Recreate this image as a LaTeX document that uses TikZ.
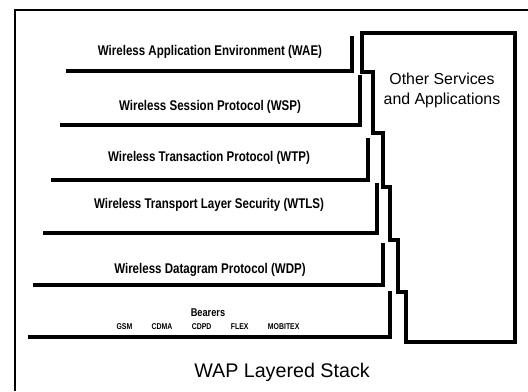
\documentclass[tikz,border=0pt]{standalone}
\usepackage{fontspec}
\setmainfont{Liberation Sans}
\newfontfamily\layerfont[FakeStretch=0.82]{Liberation Sans}
\usetikzlibrary{positioning}

\tikzset{
  layertext/.style={font=\layerfont\bfseries\fontsize{10}{11}\selectfont, inner sep=0pt},
  bearertext/.style={font=\layerfont\bfseries\fontsize{6}{7}\selectfont, inner sep=0pt},
  rim/.style={line width=2.5pt, line cap=rect},
  outline/.style={line width=2.3pt, line join=miter},
  frame/.style={line width=1.5pt}
}

\begin{document}
\begin{tikzpicture}[x=0.025cm, y=-0.025cm]
  \useasboundingbox (0,0) rectangle (528,391);

  % outer frame, cut off at the right and bottom
  \draw[frame] (15,391) -- (15,10) -- (528,10);

  % protocol layers, top to bottom
  \node[layertext] (wae) at (210,52) {Wireless Application Environment (WAE)};
  \draw[rim] (352,38) |- (68,71);

  \node[layertext] (wsp) at (210,107) {Wireless Session Protocol (WSP)};
  \draw[rim] (360,77) |- (62,125);

  \node[layertext] (wtp) at (209,158) {Wireless Transaction Protocol (WTP)};
  \draw[rim] (368,140) |- (53,180);

  \node[layertext] (wtls) at (209,205) {Wireless Transport Layer Security (WTLS)};
  \draw[rim] (377,185) |- (45,233);

  \node[layertext] (wdp) at (210,270) {Wireless Datagram Protocol (WDP)};
  \draw[rim] (383,245) |- (35,285);

  \node[layertext, font=\layerfont\bfseries\fontsize{8}{9}\selectfont] (bearers) at (208,313) {Bearers};
  \node[bearertext] (nets) at (208,327)
    {GSM\hspace{2.3em}CDMA\hspace{2.3em}CDPD\hspace{2.3em}FLEX\hspace{2.3em}MOBITEX};
  \draw[rim] (390,293) |- (30,337);

  % side box with stepped left edge
  \draw[outline] (362,33) -- (515,33) -- (515,342) -- (406,342)
    |- (398,292) |- (390,240) |- (383,187) |- (373,133) |- (362,72) -- cycle;
  \node[align=center, font=\fontsize{11.3}{14.2}\selectfont] (other) at (442,90)
    {Other Services\\and Applications};

  \node[font=\fontsize{14}{16}\selectfont] (title) at (282,372) {WAP Layered Stack};
\end{tikzpicture}
\end{document}
